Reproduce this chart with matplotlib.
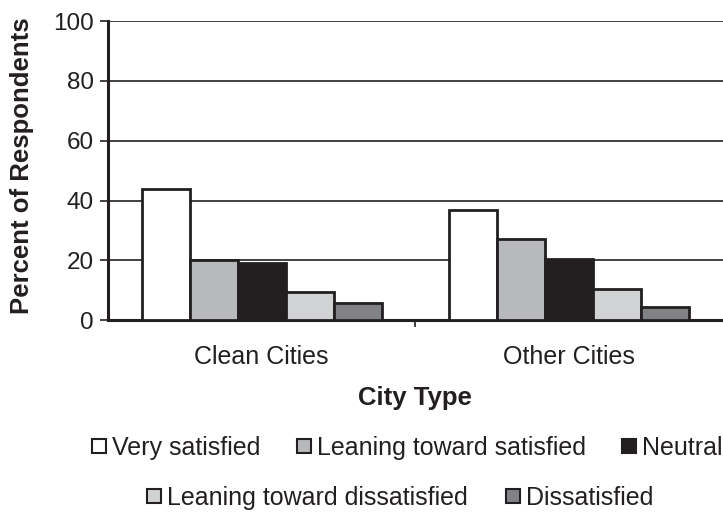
import matplotlib
matplotlib.use("Agg")
import matplotlib.pyplot as plt
from matplotlib.patches import Rectangle
import numpy as np

plt.rcParams['font.family'] = ['Liberation Sans', 'DejaVu Sans']

categories = ["Clean Cities", "Other Cities"]
series_names = ["Very satisfied", "Leaning toward satisfied", "Neutral",
                "Leaning toward dissatisfied", "Dissatisfied"]
clean_cities = [44, 20, 19, 9.3, 5.6]
other_cities = [37, 27, 20.4, 10.6, 4.5]
y_ticks = [0, 20, 40, 60, 80, 100]

colors = ["#ffffff", "#b8b9bc", "#231f20", "#d1d2d4", "#808285"]
edge = "#231f20"
ink = "#231f20"

W, H = 723, 514
fig = plt.figure(figsize=(W / 100, H / 100), dpi=100)
ax = fig.add_axes([0.149, 0.377, 0.851, 0.582])

values = np.array([clean_cities, other_cities])
x = np.arange(len(categories))
width = 0.156
for i, name in enumerate(series_names):
    offs = (i - 2) * width
    ax.bar(x + offs, values[:, i], width=width, color=colors[i],
           edgecolor=edge, linewidth=2.0, zorder=3, label=name)

ax.set_xlim(-0.5, 1.5)
ax.set_ylim(0, 100)
ax.set_yticks(y_ticks)
ax.yaxis.grid(True, color=edge, linewidth=1.2, zorder=0)
ax.set_axisbelow(True)

ax.set_xticks(x)
ax.set_xticklabels(categories, fontsize=18)
ax.tick_params(axis='x', which='major', length=0, pad=18, labelcolor=ink)
ax.set_xticks([0.5], minor=True)
ax.tick_params(axis='x', which='minor', length=5, width=1.2, color=edge)
ax.tick_params(axis='y', labelsize=17.5, length=6, width=1.2, color=edge,
               pad=4, labelcolor=ink)

for s in ["top", "right"]:
    ax.spines[s].set_visible(False)
for s in ["left", "bottom"]:
    ax.spines[s].set_linewidth(2.2)
    ax.spines[s].set_color(edge)

ax.set_xlabel("City Type", fontsize=18.5, fontweight='bold', labelpad=12,
              color=ink)
fig.text(22 / W, 1 - 166 / H, "Percent of Respondents", rotation=90,
         fontsize=18.5, fontweight='bold', color=ink,
         ha='center', va='center')

# legend laid out in two centred rows: (text left x, row baseline y) in px
legend_pos = [(112, 455), (317, 455), (642, 455), (167, 505), (526, 505)]
box = 14
gap = 6
for name, color, (tx, ty) in zip(series_names, colors, legend_pos):
    cy = ty - 9
    fig.patches.append(Rectangle(((tx - gap - box) / W, 1 - (cy + box / 2) / H),
                                 box / W, box / H, facecolor=color,
                                 edgecolor=edge, linewidth=1.5,
                                 transform=fig.transFigure, figure=fig))
    fig.text(tx / W, 1 - ty / H, name, fontsize=18, color=ink,
             ha='left', va='baseline')

fig.savefig("out.png", dpi=100)
